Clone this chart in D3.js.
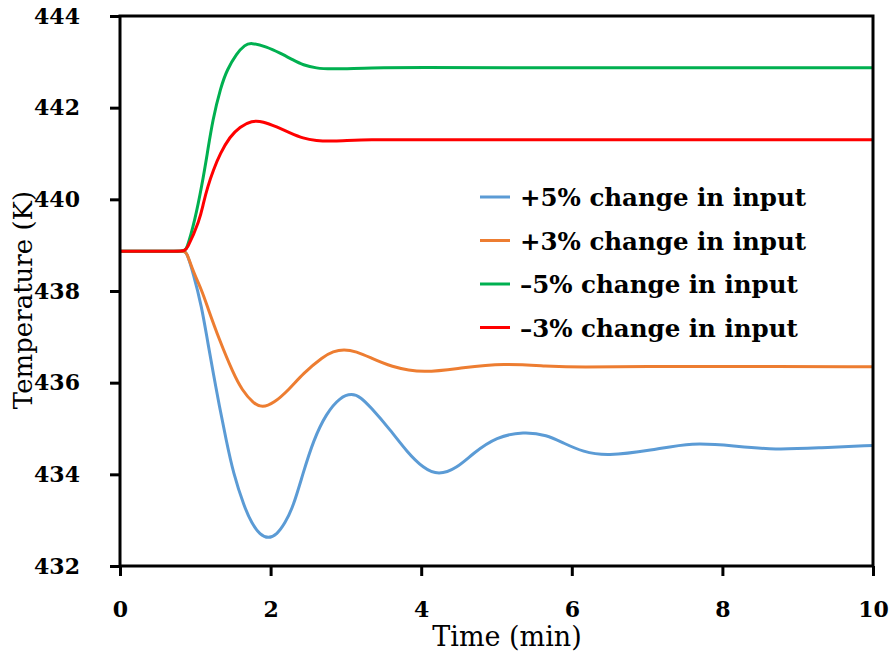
<!DOCTYPE html>
<html>
<head>
<meta charset="utf-8">
<script src="https://cdn.jsdelivr.net/npm/d3@7"></script>
<style>
  body { margin: 0; background: #fff; }
  text { font-family: "DejaVu Serif", serif; fill: #000; }
</style>
</head>
<body>
<svg id="chart" width="890" height="657"></svg>
<script>
'use strict';

// series: time (min) and temperature (K)
var plus5Time = [0, 0.85, 0.88, 0.973, 1.085, 1.16, 1.24, 1.32, 1.41, 1.505, 1.65, 1.75, 1.86, 1.97, 2.08, 2.19, 2.30, 2.43, 2.57, 2.74, 2.92, 3.08, 3.20, 3.32, 3.59, 3.81, 4.03, 4.23, 4.47, 4.69, 5.0, 5.36, 5.67, 5.89, 6.15, 6.46, 7.05, 7.6, 8.15, 8.7, 9.3, 10];
var plus5Temp = [438.87, 438.87, 438.87, 438.39, 437.66, 436.93, 436.20, 435.48, 434.75, 434.02, 433.29, 432.93, 432.68, 432.60, 432.68, 432.93, 433.29, 434.02, 434.75, 435.33, 435.68, 435.77, 435.68, 435.48, 434.97, 434.49, 434.13, 433.98, 434.13, 434.46, 434.82, 434.93, 434.86, 434.68, 434.49, 434.40, 434.52, 434.70, 434.62, 434.53, 434.58, 434.63];

var plus3Time = [0, 0.85, 0.88, 0.98, 1.085, 1.16, 1.32, 1.505, 1.62, 1.77, 1.89, 2.04, 2.24, 2.43, 2.70, 2.83, 2.97, 3.14, 3.32, 3.59, 4.03, 4.56, 5.09, 5.67, 6.11, 7, 8, 10];
var plus3Temp = [438.87, 438.87, 438.87, 438.39, 438.02, 437.66, 436.93, 436.20, 435.84, 435.55, 435.45, 435.55, 435.84, 436.20, 436.57, 436.68, 436.73, 436.68, 436.55, 436.35, 436.20, 436.33, 436.42, 436.36, 436.33, 436.36, 436.35, 436.35];

var minus5Time = [0, 0.85, 0.88, 0.996, 1.085, 1.16, 1.23, 1.34, 1.42, 1.55, 1.66, 1.735, 1.95, 2.125, 2.30, 2.43, 2.61, 2.79, 3.32, 4, 5, 10];
var minus5Temp = [438.87, 438.87, 438.87, 439.55, 440.28, 441.00, 441.73, 442.46, 442.82, 443.19, 443.37, 443.42, 443.33, 443.19, 443.04, 442.93, 442.86, 442.84, 442.87, 442.88, 442.87, 442.87];

var minus3Time = [0, 0.85, 0.88, 1.06, 1.106, 1.165, 1.24, 1.33, 1.46, 1.59, 1.75, 1.90, 2.08, 2.26, 2.43, 2.61, 2.79, 3.32, 4, 10];
var minus3Temp = [438.87, 438.87, 438.87, 439.55, 439.91, 440.28, 440.64, 441.00, 441.37, 441.58, 441.72, 441.70, 441.58, 441.45, 441.33, 441.28, 441.26, 441.31, 441.30, 441.30];

var seriesNames = ['+5% change in input', '+3% change in input', '\u20135% change in input', '\u20133% change in input'];
var seriesColors = ['#5B9BD5', '#ED7D31', '#00B050', '#FF0000'];
var xTicks = [0, 2, 4, 6, 8, 10];
var yTicks = [432, 434, 436, 438, 440, 442, 444];

var seriesData = [
  d3.zip(plus5Time, plus5Temp),
  d3.zip(plus3Time, plus3Temp),
  d3.zip(minus5Time, minus5Temp),
  d3.zip(minus3Time, minus3Temp)
];

var svg = d3.select('#chart');
var plotLeft = 120, plotRight = 873, plotTop = 16, plotBottom = 566;

var x = d3.scaleLinear().domain([0, 10]).range([plotLeft, plotRight]);
var y = d3.scaleLinear().domain([432, 444]).range([plotBottom, plotTop]);

// b-spline smooths out the small reading errors between the points
var line = d3.line()
  .x(function (d) { return x(d[0]); })
  .y(function (d) { return y(d[1]); })
  .curve(d3.curveBasis);

// curves
svg.append('g').selectAll('path').data(seriesData).enter().append('path')
  .attr('d', line)
  .attr('fill', 'none')
  .attr('stroke', function (d, i) { return seriesColors[i]; })
  .attr('stroke-width', 3)
  .attr('stroke-linejoin', 'round');

// frame
svg.append('rect')
  .attr('x', plotLeft).attr('y', plotTop)
  .attr('width', plotRight - plotLeft).attr('height', plotBottom - plotTop)
  .attr('fill', 'none').attr('stroke', '#000').attr('stroke-width', 3);

var xAxis = svg.append('g')
  .attr('transform', 'translate(0,' + plotBottom + ')')
  .call(d3.axisBottom(x).tickValues(xTicks).tickSize(10).tickPadding(25).tickFormat(d3.format('d')));
var yAxis = svg.append('g')
  .attr('transform', 'translate(' + plotLeft + ',0)')
  .call(d3.axisLeft(y).tickValues(yTicks).tickSize(10).tickPadding(30).tickFormat(d3.format('d')));

[xAxis, yAxis].forEach(function (ax) {
  ax.select('.domain').remove();
  ax.selectAll('.tick line').attr('stroke', '#000').attr('stroke-width', 3);
  ax.selectAll('.tick text')
    .style('font-family', '"DejaVu Serif", serif')
    .style('font-weight', 'bold')
    .style('font-size', '22px')
    .attr('fill', '#000');
});

// axis titles (regular weight, larger)
svg.append('text')
  .attr('x', 507).attr('y', 646)
  .attr('text-anchor', 'middle')
  .style('font-size', '27px')
  .text('Time (min)');

svg.append('text')
  .attr('transform', 'translate(32,300) rotate(-90)')
  .attr('text-anchor', 'middle')
  .style('font-size', '26px')
  .text('Temperature (K)');

// legend
var legend = svg.append('g').selectAll('g').data(seriesNames).enter().append('g')
  .attr('transform', function (d, i) { return 'translate(480,' + (197 + i * 43.5) + ')'; });
legend.append('line')
  .attr('x1', 0).attr('x2', 30)
  .attr('stroke', function (d, i) { return seriesColors[i]; })
  .attr('stroke-width', 3);
legend.append('text')
  .attr('x', 40).attr('y', 9)
  .style('font-size', '24.5px')
  .style('font-weight', 'bold')
  .text(function (d) { return d; });
</script>
</body>
</html>
